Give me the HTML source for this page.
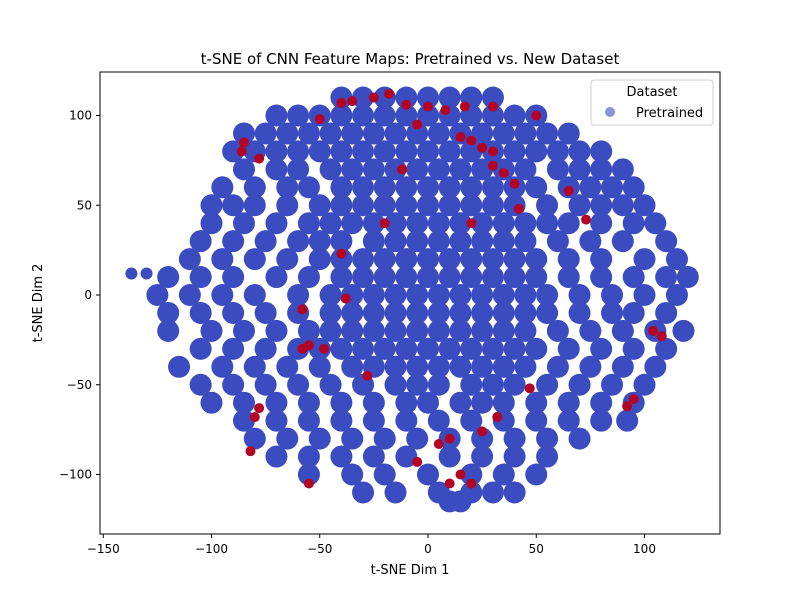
<!DOCTYPE html>
<html><head><meta charset="utf-8"><style>
body{margin:0;background:#fff}
svg{display:block;font-family:"DejaVu Sans","Liberation Sans",sans-serif}
</style></head><body>
<svg id="chart" width="800" height="600">
<rect width="800" height="600" fill="#fff"/>
<text x="410" y="64" font-size="15" text-anchor="middle">t-SNE of CNN Feature Maps: Pretrained vs. New Dataset</text>
<g id="blue"></g>
<g id="red"></g>
<rect x="100" y="72" width="620" height="462" fill="none" stroke="#000" stroke-width="1"/>
<g id="axes"></g>
<text x="410" y="574" font-size="13" text-anchor="middle">t-SNE Dim 1</text>
<text transform="translate(42,303) rotate(-90)" font-size="13" text-anchor="middle">t-SNE Dim 2</text>
<g>
<rect x="591" y="80" width="122" height="45" rx="3" fill="#fff" fill-opacity="0.85" stroke="#ccc"/>
<text x="652" y="96" font-size="13" text-anchor="middle">Dataset</text>
<circle cx="610" cy="112" r="5" fill="#3b4cc0" fill-opacity="0.6"/>
<text x="636" y="117" font-size="13">Pretrained</text>
</g>
</svg>
<script>
const yRows=[110,100,90,80,70,60,50,40,30,20,10,0,-10,-20,-30,-40,-50,-60,-70,-80,-90,-100,-110,-115,12];
const xRows=[
[-40,-30,-20,-10,0,10,20,30],
[-70,-60,-50,-40,-30,-20,-10,0,10,20,30,40,50],
[-85,-75,-65,-55,-45,-35,-25,-15,-5,5,15,25,35,45,55,65],
[-90,-80,-70,-60,-50,-40,-30,-20,-10,0,10,20,30,40,50,60,70,80],
[-85,-70,-60,-45,-35,-25,-15,-5,5,15,25,35,45,60,70,80,90],
[-95,-80,-65,-55,-40,-30,-20,-10,0,10,20,30,40,50,65,75,85,95],
[-100,-90,-80,-65,-50,-40,-30,-20,-10,0,10,20,30,40,55,70,80,90,100],
[-100,-85,-70,-55,-45,-35,-25,-15,-5,5,15,25,35,45,55,65,80,95,105],
[-105,-90,-75,-60,-50,-40,-25,-15,-5,5,15,25,35,45,60,75,90,110],
[-110,-95,-80,-65,-50,-40,-30,-20,-10,0,10,20,30,40,50,65,80,100,115],
[-120,-105,-90,-70,-55,-40,-30,-20,-10,0,10,20,30,40,50,65,80,95,110,120],
[-125,-110,-95,-80,-60,-45,-35,-25,-15,-5,5,15,25,35,45,55,70,85,100,115],
[-120,-105,-90,-75,-60,-45,-35,-25,-15,-5,5,15,25,35,45,55,70,85,95,110],
[-120,-100,-85,-70,-55,-45,-35,-25,-15,-5,5,15,25,35,45,60,75,90,105,118],
[-105,-90,-75,-60,-50,-40,-30,-20,-10,0,10,20,30,40,50,65,80,95,110],
[-115,-95,-80,-65,-50,-35,-25,-15,-5,5,15,25,35,45,60,75,90,105],
[-105,-90,-75,-60,-45,-30,-15,-5,5,20,30,40,55,70,85,100],
[-100,-85,-70,-55,-40,-25,-10,0,15,25,35,50,65,80,95],
[-85,-70,-55,-40,-25,-10,5,20,35,50,65,80,92],
[-80,-65,-50,-35,-20,-5,10,25,40,55,70],
[-70,-55,-40,-25,-10,10,25,40,55],
[-55,-35,-20,0,20,35,50],
[-30,-15,5,20,30,40],
[10,15],
[-137,-130]
];
const redX=[-85,-86,-78,-40,-35,-25,-18,-10,0,8,17,30,-50,-5,-12,15,25,30,35,40,42,20,-20,-40,65,73,-38,-58,-55,-48,-58,-28,95,92,104,108,-80,-82,-78,-55,-5,5,10,15,20,10,25,32,47,20,50,30];
const redY=[85,80,76,107,108,110,112,106,105,103,105,105,98,95,70,88,82,72,68,62,48,40,40,23,58,42,-2,-8,-28,-30,-30,-45,-58,-62,-20,-23,-68,-87,-63,-105,-93,-83,-80,-100,-105,-105,-76,-68,-52,86,100,80];
const xTicks=[-150,-100,-50,0,50,100];
const yTicks=[-100,-50,0,50,100];
const NS='http://www.w3.org/2000/svg';
const xs=v=>428+v*2.165, ys=v=>295-v*1.795;
const blue=document.getElementById('blue'), red=document.getElementById('red'), axes=document.getElementById('axes');
yRows.forEach((y,i)=>xRows[i].forEach(x=>{
  const c=document.createElementNS(NS,'circle');
  c.setAttribute('cx',xs(x));c.setAttribute('cy',ys(y));c.setAttribute('r',y===12?6:11);c.setAttribute('fill','#3b4cc0');
  
  
  blue.appendChild(c);
}));
redX.forEach((x,i)=>{
  const c=document.createElementNS(NS,'circle');
  c.setAttribute('cx',xs(x));c.setAttribute('cy',ys(redY[i]));c.setAttribute('r',5);c.setAttribute('fill','#b40426');
  
  
  red.appendChild(c);
});
xTicks.forEach(t=>{
  const l=document.createElementNS(NS,'line');
  l.setAttribute('x1',xs(t));l.setAttribute('x2',xs(t));l.setAttribute('y1',534);l.setAttribute('y2',538);l.setAttribute('stroke','#000');
  
  
  axes.appendChild(l);
  const tx=document.createElementNS(NS,'text');
  tx.setAttribute('x',xs(t));tx.setAttribute('y',553);tx.setAttribute('font-size','12');tx.setAttribute('text-anchor','middle');
  tx.textContent=t<0?'\u2212'+(-t):t;
  
  
  axes.appendChild(tx);
});
yTicks.forEach(t=>{
  const l=document.createElementNS(NS,'line');
  l.setAttribute('x1',96);l.setAttribute('x2',100);l.setAttribute('y1',ys(t));l.setAttribute('y2',ys(t));l.setAttribute('stroke','#000');
  
  
  axes.appendChild(l);
  const tx=document.createElementNS(NS,'text');
  tx.setAttribute('x',92);tx.setAttribute('y',ys(t)+4);tx.setAttribute('font-size','12');tx.setAttribute('text-anchor','end');
  tx.textContent=t<0?'\u2212'+(-t):t;
  
  
  axes.appendChild(tx);
});
</script>
</body></html>
